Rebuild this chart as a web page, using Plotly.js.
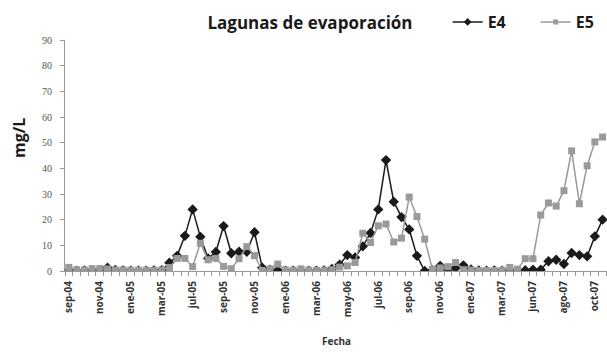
<!DOCTYPE html>
<html>
<head>
<meta charset="utf-8">
<script src="https://cdn.plot.ly/plotly-3.0.1.min.js"></script>
<style>
  html, body { margin: 0; padding: 0; background: #fff; }
  #chart { width: 607px; height: 352px; }
</style>
</head>
<body>
<div id="chart"></div>
<script>
// Sample dates are irregular; only every 4th sample carries a label.
const tickLabels = ["sep-04","nov-04","ene-05","mar-05","jul-05","sep-05","nov-05","ene-06","mar-06",
                    "may-06","jul-06","sep-06","nov-06","ene-07","mar-07","jun-07","ago-07","oct-07"];
const labelEvery = 4;

const e4 = [0.2,0.1,0.2,0.3,0.4,1.3,0.4,0.2,0.1,0.1,
            0.1,0.2,0.3,3.2,5.9,13.7,24,13.3,4.9,7.4,
            17.5,6.9,7.5,7.5,15.1,1.3,0.5,0.2,0.1,0.1,
            0.2,0.1,0.1,0.2,0.8,2.5,6.2,5.3,9.6,14.8,
            24,43.2,27,21,16.2,5.9,0,0.3,2,0.5,
            1.2,2.2,0.6,0.2,0.1,0.2,0.1,0,0,0.3,
            0.5,0.5,3.8,4.4,2.7,7,6.2,5.7,13.5,20];

const e5 = [1.4,0.5,0.4,0.9,1,0.8,0.4,0.4,0.3,0.3,
            0.3,0.3,0.4,1.4,4.9,4.9,1.7,10.8,4.4,4.9,
            1.8,0.9,4.8,9.5,6,0.2,0.8,2.7,0.4,0.3,
            0.8,0.3,0.3,0.3,0.5,1.5,2,3.3,14.7,11.1,
            17.6,18.3,11.3,12.8,28.8,21.2,12.4,0.7,1.2,1.7,
            3.3,0.5,0.4,0.2,0.2,0.2,0.3,1.4,0.7,4.8,
            4.8,21.8,26.5,25.3,31.3,46.8,26.2,41,50.3,52.2];

const xs = e4.map((_, i) => i);
const tickVals = tickLabels.map((_, k) => k * labelEvery);

const c4 = "#1a1a1a", c5 = "#9a9a9a";
const pad = "\u00a0\u00a0\u00a0\u00a0\u00a0\u00a0";

const traces = [
  { x: xs, y: e4, name: "E4", type: "scatter", mode: "lines+markers", showlegend: false,
    line: { color: c4, width: 1.5 },
    marker: { symbol: "diamond", size: 8, color: c4 } },
  { x: xs, y: e5, name: "E5", type: "scatter", mode: "lines+markers", showlegend: false,
    line: { color: c5, width: 1.5 },
    marker: { symbol: "square", size: 7, color: c5 } },
  // legend-only entries with the smaller legend markers
  { x: [null], y: [null], name: "E4" + pad, type: "scatter", mode: "lines+markers",
    line: { color: c4, width: 1.5 }, marker: { symbol: "diamond", size: 6, color: c4 } },
  { x: [null], y: [null], name: "E5", type: "scatter", mode: "lines+markers",
    line: { color: c5, width: 1.5 }, marker: { symbol: "square", size: 5, color: c5 } }
];

const layout = {
  width: 607, height: 352,
  margin: { l: 65, r: 0, t: 40, b: 81 },
  paper_bgcolor: "#fff", plot_bgcolor: "#fff",
  font: { family: "Open Sans, sans-serif", color: "#222" },
  title: { text: "Lagunas de evaporación", font: { size: 17, weight: "bold", color: "#1a1a1a" },
           xref: "paper", x: (310 - 65) / 542, xanchor: "center", yref: "container", y: 0.935, yanchor: "middle" },
  showlegend: true,
  legend: { orientation: "h", x: 0.706, xanchor: "left", y: 1.078, yanchor: "middle",
            font: { size: 16, weight: "bold", color: "#1a1a1a" },
            bgcolor: "rgba(0,0,0,0)" },
  xaxis: {
    range: [-0.5, 69.57], showgrid: false, zeroline: false,
    showline: true, linecolor: "#999", linewidth: 1,
    tickmode: "array", tickvals: tickVals, ticktext: tickLabels,
    tickangle: -90, ticks: "outside", ticklen: 5, tickcolor: "rgba(0,0,0,0)",
    tickfont: { family: "Open Sans, sans-serif", size: 10, weight: "bold", color: "#333" },
    minor: { tickmode: "linear", tick0: 0.5, dtick: 1, ticks: "outside", ticklen: 4, tickcolor: "#999", showgrid: false }
  },
  yaxis: {
    range: [0, 90], dtick: 10, showgrid: false, zeroline: false,
    showline: true, linecolor: "#999", linewidth: 1,
    ticks: "outside", ticklen: 4, tickcolor: "#999", ticklabelstandoff: 6,
    tickfont: { family: "Liberation Serif, serif", size: 10, color: "#555" }
  },
  annotations: [
    { text: "mg/L", textangle: -90, xref: "paper", yref: "paper",
      x: (19 - 65) / 542, y: (271 - 138) / 231, xanchor: "center", yanchor: "middle",
      showarrow: false, font: { size: 16, weight: "bold", color: "#1a1a1a" } },
    { text: "Fecha", xref: "paper", yref: "paper",
      x: 0.5, y: (271 - 341) / 231, xanchor: "center", yanchor: "middle",
      showarrow: false, font: { size: 10, weight: "bold", color: "#333" } }
  ]
};

Plotly.newPlot("chart", traces, layout, { displayModeBar: false, staticPlot: true });
</script>
</body>
</html>
